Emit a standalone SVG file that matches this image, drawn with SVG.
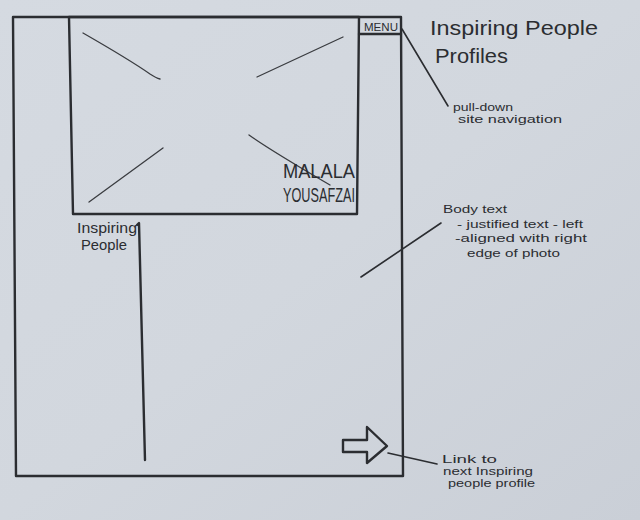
<svg xmlns="http://www.w3.org/2000/svg" width="640" height="520" viewBox="0 0 640 520">
  <defs>
    <linearGradient id="paper" x1="0" y1="0" x2="1" y2="1">
      <stop offset="0" stop-color="#d5dae1"/>
      <stop offset="0.5" stop-color="#d2d7de"/>
      <stop offset="1" stop-color="#cacfd7"/>
    </linearGradient>
    <style>
      .ink { fill: none; stroke: #2b2d31; stroke-width: 2.4; stroke-linejoin: round; stroke-linecap: round; }
      .thin { fill: none; stroke: #3a3c40; stroke-width: 1.3; stroke-linecap: round; }
      .lead { fill: none; stroke: #2b2d31; stroke-width: 1.6; stroke-linecap: round; }
      text { font-family: "Liberation Sans", "DejaVu Sans", sans-serif; fill: #2b2d31; }
      .title { font-size: 21px; }
      .note { font-size: 11.5px; }
      .label { font-size: 14px; }
      .name { font-size: 21px; }
      .menu { font-size: 11px; }
    </style>
  </defs>

  <!-- paper -->
  <rect width="640" height="520" fill="url(#paper)"/>

  <!-- page frame -->
  <g id="page">
    <path class="ink" d="M13,17 L401,17 L403,476 L16,476 Z"/>
  </g>

  <!-- hero photo with placeholder cross -->
  <g id="photo">
    <path class="ink" d="M69,17 L359,17 L357,214 L73,214 Z"/>
    <path class="thin" d="M83,33 Q130,60 150,74 Q156,78 160,79"/>
    <path class="thin" d="M343,37 L257,77"/>
    <path class="thin" d="M163,148 L89,202"/>
    <path class="thin" d="M249,135 Q270,150 330,185"/>
    <text class="name" x="283" y="178" textLength="72" lengthAdjust="spacingAndGlyphs">MALALA</text>
    <text class="name" x="283" y="202" textLength="72" lengthAdjust="spacingAndGlyphs">YOUSAFZAI</text>
  </g>

  <!-- menu tab -->
  <g id="menu">
    <path class="ink" d="M359,34 L401,34"/>
    <text class="menu" x="364" y="31" textLength="34" lengthAdjust="spacingAndGlyphs">MENU</text>
  </g>

  <!-- side navigation column -->
  <g id="side-nav">
    <path class="ink" d="M137,225 L139,223 L145,460"/>
    <text class="label" x="77" y="233" textLength="60" lengthAdjust="spacingAndGlyphs">Inspiring</text>
    <text class="label" x="81" y="250" textLength="46" lengthAdjust="spacingAndGlyphs">People</text>
  </g>

  <!-- next-profile arrow -->
  <g id="next-arrow">
    <path class="ink" d="M343,440 L367,440 L367,427 L387,446 L367,463 L367,452 L343,452 Z"/>
  </g>

  <!-- page title -->
  <g id="title">
    <text class="title" x="430" y="35" textLength="168" lengthAdjust="spacingAndGlyphs">Inspiring People</text>
    <text class="title" x="435" y="63" textLength="73" lengthAdjust="spacingAndGlyphs">Profiles</text>
  </g>

  <!-- annotations -->
  <g id="note-menu">
    <text class="note" x="453" y="111" textLength="60" lengthAdjust="spacingAndGlyphs">pull-down</text>
    <text class="note" x="458" y="123" textLength="104" lengthAdjust="spacingAndGlyphs">site navigation</text>
  </g>
  <g id="note-body">
    <text class="note" x="443" y="213" textLength="64" lengthAdjust="spacingAndGlyphs">Body text</text>
    <text class="note" x="457" y="228" textLength="126" lengthAdjust="spacingAndGlyphs">- justified text - left</text>
    <text class="note" x="455" y="242" textLength="132" lengthAdjust="spacingAndGlyphs">-aligned with right</text>
    <text class="note" x="467" y="257" textLength="93" lengthAdjust="spacingAndGlyphs">edge of photo</text>
  </g>
  <g id="note-link">
    <text class="note" x="442" y="463" textLength="55" lengthAdjust="spacingAndGlyphs">Link to</text>
    <text class="note" x="443" y="475" textLength="90" lengthAdjust="spacingAndGlyphs">next Inspiring</text>
    <text class="note" x="448" y="487" textLength="87" lengthAdjust="spacingAndGlyphs">people profile</text>
  </g>

  <!-- leader lines -->
  <g id="connectors">
    <path class="lead" d="M402,29 L448,106"/>
    <path class="lead" d="M361,277 L441,223"/>
    <path class="lead" d="M388,453 L437,464"/>
  </g>
</svg>
